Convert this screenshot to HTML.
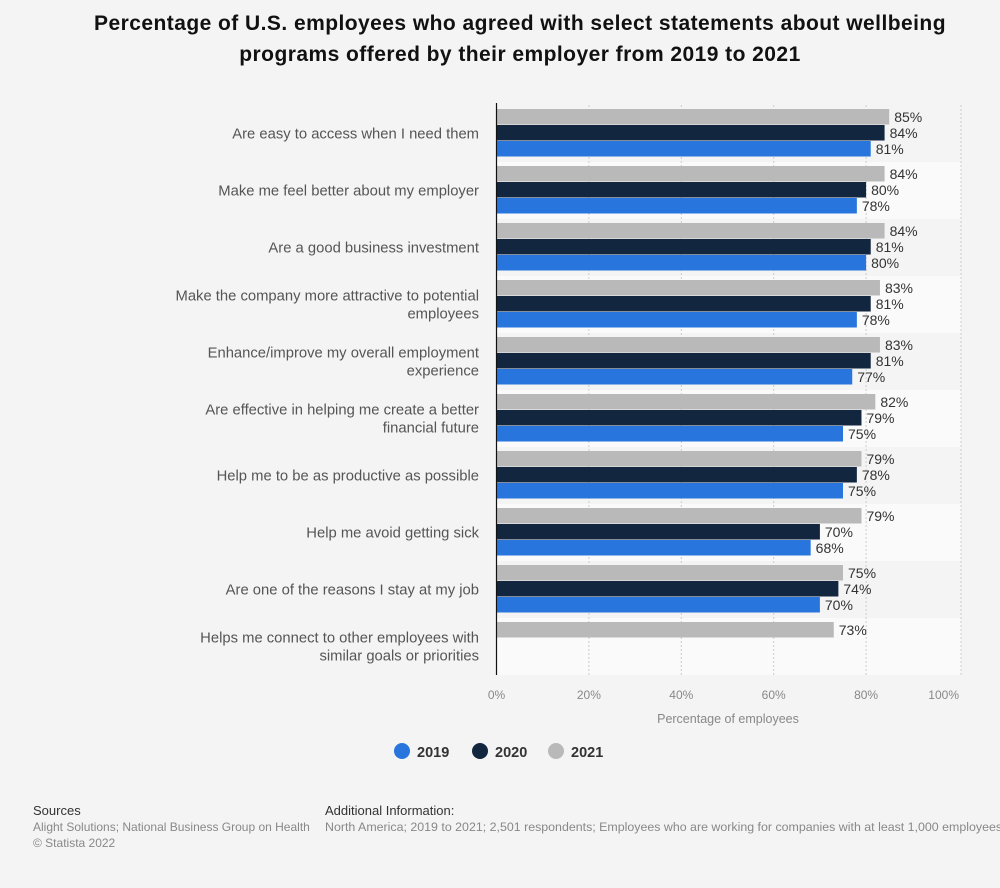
<!DOCTYPE html>
<html><head><meta charset="utf-8">
<style>
body{margin:0;background:#f4f4f4;font-family:"Liberation Sans",sans-serif;}
#wrap{position:relative;width:1000px;height:888px;overflow:hidden;}
h1{position:absolute;left:20px;top:8px;width:1000px;margin:0;text-align:center;font-size:21px;letter-spacing:0.45px;line-height:31px;color:#111;font-weight:bold;white-space:nowrap;}
.foot{position:absolute;font-size:12px;color:#888;line-height:16px;}
.foot b{color:#333;font-weight:normal;font-size:13px;}
</style></head><body>
<div id="wrap">
<h1>Percentage of U.S. employees who agreed with select statements about wellbeing<br>programs offered by their employer from 2019 to 2021</h1>
<svg id="chart" width="1000" height="790" style="position:absolute;left:0;top:0"></svg>
<div class="foot" style="left:33px;top:803px"><b>Sources</b><br>Alight Solutions; National Business Group on Health<br>© Statista 2022</div>
<div class="foot" style="left:325px;top:803px;white-space:nowrap;font-size:12.4px"><b>Additional Information:</b><br>North America; 2019 to 2021; 2,501 respondents; Employees who are working for companies with at least 1,000 employees</div>
</div>
<script>
const categories=[["Are easy to access when I need them"],["Make me feel better about my employer"],["Are a good business investment"],["Make the company more attractive to potential","employees"],["Enhance/improve my overall employment","experience"],["Are effective in helping me create a better","financial future"],["Help me to be as productive as possible"],["Help me avoid getting sick"],["Are one of the reasons I stay at my job"],["Helps me connect to other employees with","similar goals or priorities"]];
const v2021=[85,84,84,83,83,82,79,79,75,73];
const v2020=[84,80,81,81,81,79,78,70,74,null];
const v2019=[81,78,80,78,77,75,75,68,70,null];
const ticks=[0,20,40,60,80,100];
const series=[{name:"2021",vals:v2021,color:"#b9b9b9"},{name:"2020",vals:v2020,color:"#12263f"},{name:"2019",vals:v2019,color:"#2876dd"}];
const NS="http://www.w3.org/2000/svg",svg=document.getElementById('chart');
const x0=496.5,x1=958.5,plotTop=105,band=57,barH=16;
const xs=v=>x0+(x1-x0)*v/100;
const ys=i=>plotTop+i*band;
function mk(t,a,p){const e=document.createElementNS(NS,t);for(const k in a)e.setAttribute(k,a[k]);(p||svg).appendChild(e);return e;}
categories.forEach((c,i)=>{
 const r=mk('rect',{x:x0,y:ys(i),width:961-x0,height:band,fill:i%2?'#fafafa':'#f4f4f4'});
 
 
});
ticks.forEach((t,idx)=>{
 const gx=idx===ticks.length-1?961:xs(t);
 const l=mk('line',{x1:gx,x2:gx,y1:plotTop,y2:plotTop+band*categories.length,stroke:'#ccc','stroke-dasharray':'2,2'});
 
 
 const last=idx===ticks.length-1;
 const tx=mk('text',{x:last?959:xs(t),y:699,'text-anchor':last?'end':'middle','font-size':12,fill:'#888'});tx.textContent=t+'%';
 
 
});
categories.forEach((c,i)=>{
 const cy=ys(i)+band/2;
 c.forEach((ln,j)=>{
  const t=mk('text',{x:479,y:cy+5+(j-(c.length-1)/2)*18,'text-anchor':'end','font-size':14.8,fill:'#555'});t.textContent=ln;
  
  
 });
 series.forEach((s,k)=>{
  const v=s.vals[i];if(v==null)return;
  const y=ys(i)+4+k*barH;
  const b=mk('rect',{x:x0,y:y,width:xs(v)-x0,height:barH-0.5,fill:s.color});
  
  
  const t=mk('text',{x:xs(v)+5,y:y+13,'font-size':14,fill:'#333'});t.textContent=v+'%';
  
  
 });
});
const ax=mk('line',{x1:x0,x2:x0,y1:plotTop-2,y2:plotTop+band*categories.length,stroke:'#111','stroke-width':1.2});


const xt=mk('text',{x:728,y:723,'text-anchor':'middle','font-size':12.5,fill:'#888'});xt.textContent='Percentage of employees';


const leg=[{n:"2019",c:"#2876dd",x:402},{n:"2020",c:"#12263f",x:480},{n:"2021",c:"#b9b9b9",x:556}];
leg.forEach(l=>{
 const g=mk('g',{});
 
 
 mk('circle',{cx:l.x,cy:751,r:8,fill:l.c},g);
 const t=mk('text',{x:l.x+15,y:757,'font-size':14.5,'font-weight':'bold',fill:'#333'},g);t.textContent=l.n;
});
</script>
</body></html>
